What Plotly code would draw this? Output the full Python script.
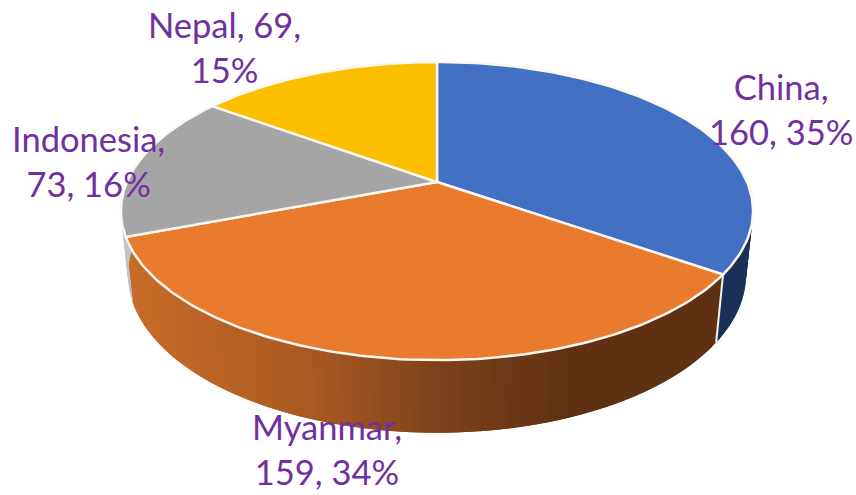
import numpy as np
import plotly.graph_objects as go

categories = ["China", "Myanmar", "Indonesia", "Nepal"]
values = [160, 159, 73, 69]
percents = [35, 34, 16, 15]
label_lines = [["China,", "160, 35%"], ["Myanmar,", "159, 34%"], ["Indonesia,", "73, 16%"], ["Nepal, 69,", "15%"]]
top_colors = ["#4270C2", "#E97B2F", "#A5A5A5", "#FBBF00"]

W, H = 856, 495
CX, CY, A, B, K, M, D = 437, 182, 143.4, 310, 0.195, 0.022, 64


def project(deg, r=1.0, z=0.0):
    t = np.radians(deg)
    u, v = r * np.sin(t), r * np.cos(t)
    s = 1 / (1 + K * v + M * z)
    return CX + B * u * s, CY - A * v * s + D * z * s


def rgb(stops, x):
    xs = [p[0] for p in stops]
    c = [np.interp(x, xs, [p[1][i] for p in stops]) for i in range(3)]
    return "rgb(%d,%d,%d)" % tuple(int(round(i)) for i in c)


side_shades = [
    [(700, (26, 48, 88)), (760, (26, 48, 88))],
    [(130, (198, 108, 40)), (300, (172, 90, 34)), (440, (125, 66, 26)), (570, (96, 48, 18)), (720, (96, 48, 18))],
    [(100, (190, 195, 200)), (140, (190, 195, 200))],
    [(100, (120, 120, 120)), (200, (120, 120, 120))],
]

fig = go.Figure()
total = sum(values)
edges = np.concatenate([[0], np.cumsum(values)]) / total * 360


def poly(xs, ys, fill, line=None, width=0):
    fig.add_trace(go.Scatter(x=xs, y=ys, mode="lines", fill="toself", fillcolor=fill,
                             line=dict(color=line or fill, width=width), hoverinfo="skip", showlegend=False))


# side wall, in thin shaded strips; each strip reaches under the next one so no seams show
for i in range(len(values)):
    a0, a1 = max(edges[i], 80), min(edges[i + 1], 280)
    if a1 <= a0:
        continue
    n = max(2, int((a1 - a0) / 1.5))
    th = np.linspace(a0, a1, n + 1)
    for j in range(n):
        end = th[min(j + 2, n)]
        arc = np.linspace(th[j], end, 6)
        xt, yt = project(arc)
        xb, yb = project(arc[::-1], z=1)
        xm = project((th[j] + th[j + 1]) / 2)[0]
        col = rgb(side_shades[i], xm)
        poly(np.concatenate([xt, xb, xt[:1]]), np.concatenate([yt, yb, yt[:1]]), col)

# white seam between China and Myanmar walls
sx0, sy0 = project(edges[1])
sx1, sy1 = project(edges[1], z=1)
fig.add_trace(go.Scatter(x=[sx0, sx1], y=[sy0, sy1], mode="lines", line=dict(color="#F4F1EC", width=2),
                         hoverinfo="skip", showlegend=False))

# top face wedges
for i in range(len(values)):
    th = np.linspace(edges[i], edges[i + 1], 120)
    xs, ys = project(th)
    xs = np.concatenate([[CX], xs, [CX]])
    ys = np.concatenate([[CY], ys, [CY]])
    poly(xs, ys, top_colors[i], line="#FBF6EF", width=2.5)

positions = [(781, 109), (327, 449), (88, 161), (224, 47)]
for lines, (x, y) in zip(label_lines, positions):
    fig.add_annotation(x=x, y=y, xref="x", yref="y", text="<br>".join(lines), showarrow=False,
                       align="center", xanchor="center", yanchor="middle",
                       font=dict(family="Lato, Carlito, sans-serif", size=34.5, color="#7030A0"))

fig.update_layout(
    width=W, height=H, margin=dict(l=0, r=0, t=0, b=0), paper_bgcolor="white", plot_bgcolor="white",
    xaxis=dict(range=[0, W], visible=False, fixedrange=True),
    yaxis=dict(range=[H, 0], visible=False, fixedrange=True),
    showlegend=False,
)
fig.write_html("out.html", config=dict(displayModeBar=False),
               post_script="document.body.style.margin='0';document.body.style.overflow='hidden';")
